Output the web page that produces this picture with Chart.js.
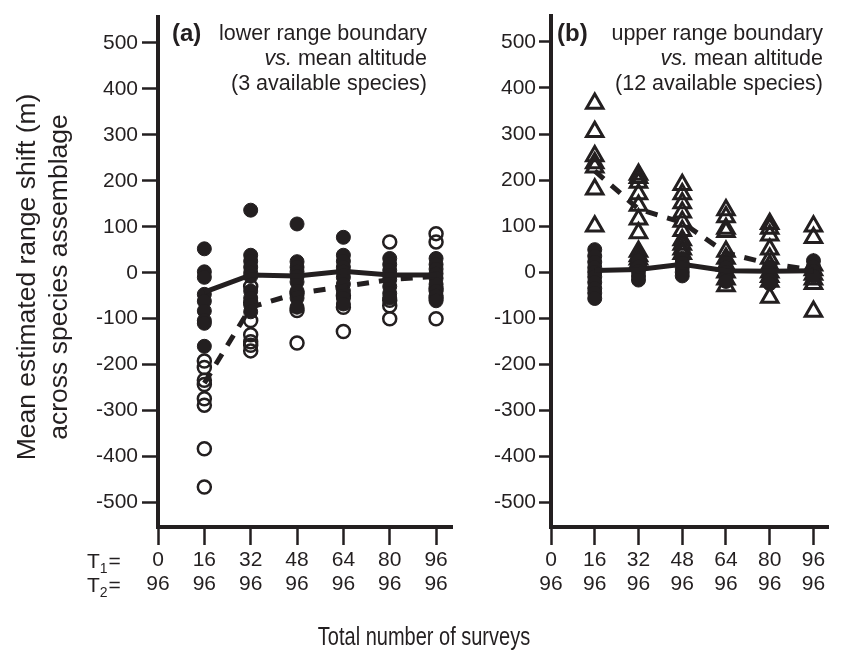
<!DOCTYPE html>
<html>
<head>
<meta charset="utf-8">
<script src="https://cdn.jsdelivr.net/npm/chart.js@4.4.1/dist/chart.umd.min.js"></script>
<style>
  html, body { margin: 0; padding: 0; background: #fff; }
  #wrap { position: relative; width: 841px; height: 651px; }
  .box { position: absolute; top: 0; height: 651px; }
  #boxA { left: 0; width: 841px; }
  #boxB { left: 460px; width: 381px; }
</style>
</head>
<body>
<div id="wrap">
  <div class="box" id="boxA"><canvas id="chartA"></canvas></div>
  <div class="box" id="boxB"><canvas id="chartB"></canvas></div>
</div>
<script>
const ink = "#231f20";
const fam = "'Liberation Sans', Arial, Helvetica, sans-serif";

// shared axes
const xCols = [16, 32, 48, 64, 80, 96];
const xTicks = [0, 16, 32, 48, 64, 80, 96];
const t1Labels = ["0", "16", "32", "48", "64", "80", "96"];
const t2Labels = ["96", "96", "96", "96", "96", "96", "96"];
const yTicks = [-500, -400, -300, -200, -100, 0, 100, 200, 300, 400, 500];
const yTitle = ["Mean estimated range shift (m)", "across species assemblage"];
const xTitle = "Total number of surveys";

// panel (a): lower range boundary, one list per column of xCols
const aFilled = [
  [52, 2, -10, -47, -62, -83, -104, -110, -160],
  [136, 38, 25, 12, 0, -8, -40, -55, -70, -85],
  [106, 24, 12, 2, -8, -20, -40, -55, -75],
  [77, 38, 25, 12, 2, -10, -25, -40, -55, -68],
  [31, 18, 5, -5, -15, -30, -45, -55],
  [31, 18, 8, -2, -12, -25, -40, -50, -61]
];
const aOpen = [
  [-192, -206, -234, -243, -274, -288, -383, -466],
  [-30, -65, -104, -135, -150, -158, -170],
  [-45, -82, -153],
  [-50, -75, -128],
  [67, -60, -72, -100],
  [85, 67, -35, -55, -100]
];
const aFilledMean = [-42, -5, -7, 3, -5, -5];
const aOpenMean = [-240, -75, -45, -30, -15, -8];

// panel (b): upper range boundary
const bFilled = [
  [49, 35, 22, 10, 0, -10, -22, -35, -45, -57],
  [25, 12, 2, -8, -17],
  [30, 20, 10, 0, -8],
  [20, 10, 0, -10, -20],
  [12, 2, -8, -18, -25],
  [25, 12, 2, -8]
];
const bOpen = [
  [366, 305, 252, 237, 228, 180, 100],
  [212, 205, 195, 170, 145, 115, 85, 45, 35, 28, 20],
  [190, 170, 150, 130, 110, 90, 70, 60, 50, 40],
  [135, 120, 95, 88, 45, 30, 15, 0, -15, -30],
  [105, 95, 80, 50, 30, 15, 0, -10, -20, -55],
  [100, 75, 15, 5, -5, -15, -25, -85]
];
const bFilledMean = [4, 6, 17, 3, 2, 3];
const bOpenMean = [220, 137, 108, 42, 18, 5];

Chart.defaults.font.family = fam;
Chart.defaults.color = ink;

function toPoints(cols) {
  return cols.flatMap((vals, i) => vals.map(v => ({ x: xCols[i], y: v })));
}
function meanLine(vals, dashed) {
  return {
    data: vals.map((v, i) => ({ x: xCols[i], y: v })),
    showLine: true, pointRadius: 0, borderColor: ink, borderWidth: 5,
    borderDash: dashed ? [12, 10] : [], fill: false
  };
}
function filledDots(cols) {
  return { data: toPoints(cols), pointStyle: "circle", pointRadius: 7,
    backgroundColor: ink, borderColor: ink, borderWidth: 1 };
}
function openMarks(cols, style) {
  const tri = style === "triangle";
  return { data: toPoints(cols), pointStyle: style, pointRadius: tri ? 9.5 : 6.5,
    backgroundColor: "rgba(0,0,0,0)", borderColor: ink, borderWidth: tri ? 3 : 2.5 };
}

// the three-line note in the top right of a panel (x in canvas pixels)
function panelText(ctx, tag, tagX, rightX, top, bottom) {
  ctx.save();
  ctx.fillStyle = ink;
  ctx.textBaseline = "alphabetic";
  ctx.textAlign = "left";
  ctx.font = "bold 24px " + fam;
  ctx.fillText(tag, tagX, 41);
  ctx.textAlign = "right";
  ctx.font = "21.5px " + fam;
  ctx.fillText(top, rightX, 40);
  const rest = " mean altitude";
  const w = ctx.measureText(rest).width;
  ctx.fillText(rest, rightX, 65);
  ctx.font = "italic 21.5px " + fam;
  ctx.fillText("vs.", rightX - w, 65);
  ctx.font = "21.5px " + fam;
  ctx.fillText(bottom, rightX, 90);
  ctx.restore();
}

function rowLabel(ctx, sub, baseY) {
  ctx.font = "21px " + fam;
  ctx.fillText("T", 87, baseY);
  let x = 87 + ctx.measureText("T").width;
  ctx.font = "14px " + fam;
  ctx.fillText(sub, x, baseY + 5);
  x += ctx.measureText(sub).width + 1;
  ctx.font = "21px " + fam;
  ctx.fillText("=", x, baseY);
}

const textA = {
  id: "textA",
  afterDraw(chart) {
    const ctx = chart.ctx;
    ctx.save();
    ctx.fillStyle = ink;
    ctx.save();
    ctx.translate(0, 277);
    ctx.rotate(-Math.PI / 2);
    ctx.textAlign = "center";
    ctx.font = "26.5px " + fam;
    ctx.fillText(yTitle[0], 0, 35);
    ctx.fillText(yTitle[1], 0, 67);
    ctx.restore();
    ctx.textAlign = "left";
    rowLabel(ctx, "1", 568);
    rowLabel(ctx, "2", 592);
    // condensed face in the original: squeeze the title horizontally
    ctx.save();
    ctx.translate(424, 645);
    ctx.scale(0.8, 1);
    ctx.textAlign = "center";
    ctx.font = "25px " + fam;
    ctx.fillText(xTitle, 0, 0);
    ctx.restore();
    ctx.restore();
    panelText(ctx, "(a)", 172, 427, "lower range boundary", "(3 available species)");
  }
};
const textB = {
  id: "textB",
  afterDraw(chart) {
    // canvas B starts at page x = 460
    panelText(chart.ctx, "(b)", 557 - 460, 823 - 460, "upper range boundary", "(12 available species)");
  }
};

function makeChart(id, datasets, yWidth, rightPad, yTickLen, plugin) {
  return new Chart(document.getElementById(id), {
    type: "scatter",
    data: { datasets: datasets },
    options: {
      responsive: true,
      maintainAspectRatio: false,
      animation: false,
      layout: { padding: { left: 0, top: 7, right: rightPad, bottom: 0 } },
      plugins: { legend: { display: false }, tooltip: { enabled: false } },
      scales: {
        x: {
          type: "linear", min: 0, max: 101.5,
          afterBuildTicks: s => { s.ticks = xTicks.map(v => ({ value: v })); },
          afterFit: s => { s.height = 124; },
          grid: { drawOnChartArea: false, tickLength: 18, tickWidth: 2.5, tickColor: ink },
          border: { width: 4, color: ink },
          ticks: { color: ink, padding: 3, maxRotation: 0, autoSkip: false,
            font: { size: 21, lineHeight: 1.15 },
            callback: (v, i) => [t1Labels[i], t2Labels[i]] }
        },
        y: {
          min: -553, max: 557,
          afterBuildTicks: s => { s.ticks = yTicks.map(v => ({ value: v })); },
          afterFit: s => { s.width = yWidth; },
          grid: { drawOnChartArea: false, tickLength: yTickLen, tickWidth: 2.5, tickColor: ink },
          border: { width: 4, color: ink },
          ticks: { color: ink, padding: yTickLen < 14 ? 3 : 4, font: { size: 21 }, callback: v => String(v) }
        }
      }
    },
    plugins: [plugin]
  });
}

makeChart("chartA", [
  meanLine(aFilledMean, false),
  meanLine(aOpenMean, true),
  filledDots(aFilled),
  openMarks(aOpen, "circle")
], 158, 389, 16, textA);

makeChart("chartB", [
  meanLine(bFilledMean, false),
  meanLine(bOpenMean, true),
  filledDots(bFilled),
  openMarks(bOpen, "triangle")
], 91, 0, 12, textB);
</script>
</body>
</html>
